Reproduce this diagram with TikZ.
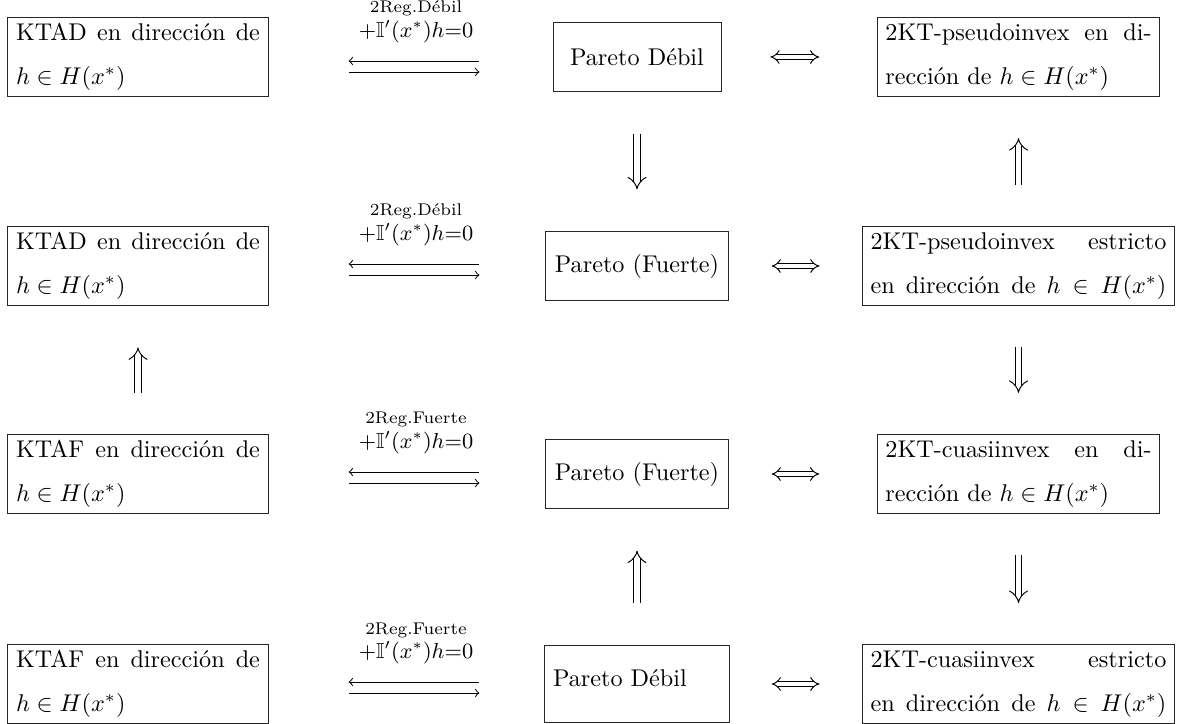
\documentclass[tikz,border=0pt]{standalone}
\usepackage{amssymb}
\usetikzlibrary{arrows.meta}
\begin{document}
\begin{tikzpicture}[x=0.4132pt,y=-0.4132pt,
  box/.style={draw=black!85,line width=0.4pt,inner xsep=3.33pt,inner ysep=2.6pt,
    font={\linespread{1.5}\selectfont},align=justify},
  lbox/.style={box,text width=100.8pt},
  rbox/.style={box,text width=110pt},
  rwbox/.style={box,text width=122.2pt},
  mbox/.style={draw=black!85,line width=0.4pt,inner sep=0pt,minimum height=28.9pt,align=center},
  toplab/.style={font=\scriptsize,anchor=base,inner sep=0pt},
  botlab/.style={font=\small,anchor=base,inner sep=0pt},
  pair/.style={line width=0.4pt,shorten <=33.1pt},
  iff/.style={double,double distance=1.6pt,line width=0.4pt,{Implies}-{Implies}},
  imp/.style={double,double distance=2.4pt,line width=0.4pt,-{Implies},shorten <=17pt,shorten >=17pt}]
\useasboundingbox (0,0) rectangle (1177,724);
% left column
\node[lbox] (L1) at (138,57) {KTAD en dirección de\linebreak $h\in H(x^*)$};
\node[lbox] (L2) at (138,266) {KTAD en dirección de\linebreak $h\in H(x^*)$};
\node[lbox] (L3) at (138,474) {KTAF en dirección de\linebreak $h\in H(x^*)$};
\node[lbox] (L4) at (138,684) {KTAF en dirección de\linebreak $h\in H(x^*)$};
% middle column
\node[mbox,minimum width=69.4pt] (M1) at (637,57) {Pareto Débil};
\node[mbox,minimum width=76pt] (M2) at (637,266) {Pareto (Fuerte)};
\node[mbox,minimum width=76pt] (M3) at (637,474) {Pareto (Fuerte)};
\node[draw=black!85,line width=0.4pt,inner xsep=3.33pt,inner ysep=0pt,text width=69.4pt,align=left,
  minimum height=32.2pt,text depth=5pt] (M4) at (637,684) {Pareto Débil};
% right column
\node[rbox] (R1) at (1018.5,57) {2KT-pseudoinvex en di-\linebreak rección de $h\in H(x^*)$};
\node[rwbox] (R2) at (1018.5,266) {\parfillskip=0pt 2KT-pseudoinvex estricto\linebreak en dirección de $h\in H(x^*)$\par};
\node[rbox] (R3) at (1018.5,474) {2KT-cuasiinvex en di-\linebreak rección de $h\in H(x^*)$};
\node[rwbox] (R4) at (1018.5,684) {\parfillskip=0pt 2KT-cuasiinvex estricto\linebreak en dirección de $h\in H(x^*)$\par};
% labels over the arrow pairs
\node[toplab] (a1) at (416,13) {2Reg.Débil};
\node[botlab] (b1) at (416,38) {$+\mathbb{I}'(x^*)h{=}0$};
\node[toplab] (a2) at (416,216) {2Reg.Débil};
\node[botlab] (b2) at (416,241) {$+\mathbb{I}'(x^*)h{=}0$};
\node[toplab] (a3) at (416,424) {2Reg.Fuerte};
\node[botlab] (b3) at (416,449) {$+\mathbb{I}'(x^*)h{=}0$};
\node[toplab] (a4) at (416,634) {2Reg.Fuerte};
\node[botlab] (b4) at (416,659) {$+\mathbb{I}'(x^*)h{=}0$};
% arrow pairs
\draw[pair,to-,shorten >=30.2pt,transform canvas={yshift=-1.65pt}] (L1.east) -- (M1.west);
\draw[pair,-to,shorten >=30.2pt,transform canvas={yshift=-6.2pt}] (L1.east) -- (M1.west);
\draw[pair,to-,shorten >=26.9pt,transform canvas={yshift=0.83pt}] (L2.east) -- (M2.west);
\draw[pair,-to,shorten >=26.9pt,transform canvas={yshift=-3.72pt}] (L2.east) -- (M2.west);
\draw[pair,to-,shorten >=26.9pt,transform canvas={yshift=0.83pt}] (L3.east) -- (M3.west);
\draw[pair,-to,shorten >=26.9pt,transform canvas={yshift=-3.72pt}] (L3.east) -- (M3.west);
\draw[pair,to-,shorten >=26.9pt,transform canvas={yshift=0.83pt}] (L4.east) -- (M4.west);
\draw[pair,-to,shorten >=26.9pt,transform canvas={yshift=-3.72pt}] (L4.east) -- (M4.west);
% equivalences
\draw[iff,shorten <=20.2pt,shorten >=23.8pt] (M1.east) -- (R1.west);
\draw[iff,shorten <=17.4pt,shorten >=17.6pt] (M2.east) -- (R2.west);
\draw[iff,shorten <=17.4pt,shorten >=23.8pt] (M3.east) -- (R3.west);
\draw[iff,shorten <=17.4pt,shorten >=17.6pt] (M4.east) -- (R4.west);
% implications
\draw[imp] (M1.south) -- (M2.north);
\draw[imp] (R2.north) -- (R1.south);
\draw[imp] (L3.north) -- (L2.south);
\draw[imp] (R2.south) -- (R3.north);
\draw[imp] (R3.south) -- (R4.north);
\draw[imp] (M4.north) -- (M3.south);
\end{tikzpicture}
\end{document}
